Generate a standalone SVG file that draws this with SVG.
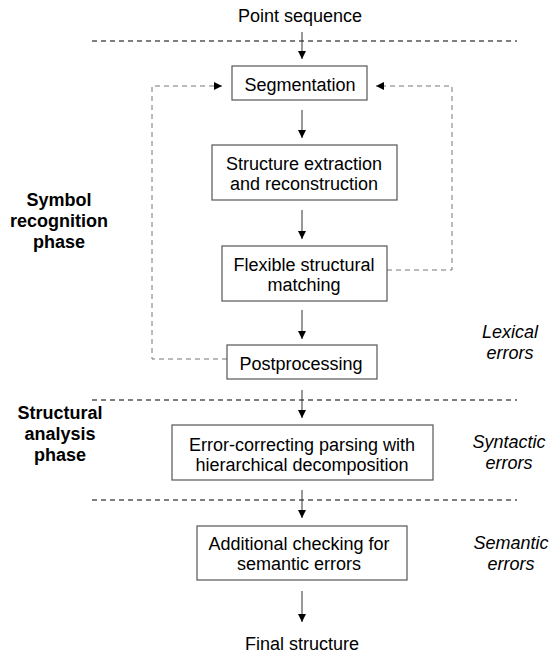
<svg xmlns="http://www.w3.org/2000/svg" width="551" height="654" viewBox="0 0 551 654">
<defs>
<marker id="ah" viewBox="0 0 10 10" refX="10" refY="5" markerWidth="8" markerHeight="8" markerUnits="userSpaceOnUse" orient="auto">
<path d="M0,0 L10,5 L0,10 z" fill="#000"/>
</marker>
</defs>
<style>
text{font-family:"Liberation Sans",Arial,sans-serif;font-size:18px;fill:#000;text-anchor:middle}
.b{font-weight:bold}
.i{font-style:italic}
.box{fill:#fff;stroke:#555;stroke-width:1.2}
.sep{stroke:#000;stroke-width:1;stroke-dasharray:5,4;fill:none}
.arr{stroke:#333;stroke-width:1;fill:none;marker-end:url(#ah)}
.fb{stroke:#777;stroke-width:1;stroke-dasharray:5,4;fill:none;marker-end:url(#ah)}
</style>
<rect width="551" height="654" fill="#fff"/>
<g id="separators">
<line class="sep" x1="92" y1="41" x2="517" y2="41"/>
<line class="sep" x1="92" y1="400" x2="517" y2="400"/>
<line class="sep" x1="92" y1="500" x2="517" y2="500"/>
</g>
<g id="labels">
<text x="300" y="22">Point sequence</text>
<text x="302" y="650">Final structure</text>
<text class="b" x="59" y="206">Symbol</text>
<text class="b" x="59" y="227">recognition</text>
<text class="b" x="59" y="248">phase</text>
<text class="b" x="60" y="419">Structural</text>
<text class="b" x="60" y="440">analysis</text>
<text class="b" x="60" y="461">phase</text>
<text class="i" x="510" y="338">Lexical</text>
<text class="i" x="510" y="359">errors</text>
<text class="i" x="509" y="448">Syntactic</text>
<text class="i" x="509" y="469">errors</text>
<text class="i" x="511" y="549">Semantic</text>
<text class="i" x="511" y="570">errors</text>
</g>
<g id="connectors">
<line class="arr" x1="302" y1="32" x2="302" y2="59"/>
<line class="arr" x1="302" y1="110" x2="302" y2="138"/>
<line class="arr" x1="302" y1="210" x2="302" y2="239"/>
<line class="arr" x1="302" y1="310" x2="302" y2="339"/>
<line class="arr" x1="302" y1="390" x2="302" y2="418"/>
<line class="arr" x1="302" y1="490" x2="302" y2="518"/>
<line class="arr" x1="302" y1="591" x2="302" y2="622"/>
<polyline class="fb" points="227,359 152,359 152,86 222,86"/>
<polyline class="fb" points="387,270 452,270 452,86 376,86"/>
</g>
<g id="segmentation">
<rect class="box" x="232" y="66" width="135" height="34"/>
<text x="300" y="91">Segmentation</text>
</g>
<g id="structure-extraction">
<rect class="box" x="212" y="145" width="185" height="55"/>
<text x="304" y="170">Structure extraction</text>
<text x="304" y="190">and reconstruction</text>
</g>
<g id="flexible-matching">
<rect class="box" x="222" y="246" width="165" height="55"/>
<text x="304" y="271">Flexible structural</text>
<text x="304" y="291">matching</text>
</g>
<g id="postprocessing">
<rect class="box" x="227" y="345" width="150" height="34"/>
<text x="301" y="370">Postprocessing</text>
</g>
<g id="parsing">
<rect class="box" x="172" y="425" width="261" height="55"/>
<text x="302" y="451">Error-correcting parsing with</text>
<text x="302" y="471">hierarchical decomposition</text>
</g>
<g id="semantic-check">
<rect class="box" x="197" y="526" width="210" height="54"/>
<text x="299" y="550">Additional checking for</text>
<text x="299" y="570">semantic errors</text>
</g>
</svg>
